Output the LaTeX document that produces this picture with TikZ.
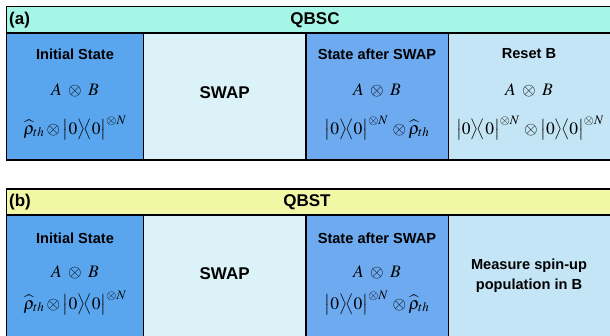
\documentclass[tikz,border=0pt]{standalone}
\usepackage{mathptmx}
\usepackage[no-math]{fontspec}
\setsansfont{Liberation Sans}
\definecolor{hdrA}{HTML}{A6F6E7}
\definecolor{hdrB}{HTML}{F2F7A6}
\definecolor{colA}{HTML}{5AA6EE}
\definecolor{colB}{HTML}{DCF2F9}
\definecolor{colC}{HTML}{6EAAF0}
\definecolor{colD}{HTML}{C3E5F5}
\newcommand{\kb}{\bigl|0\bigr\rangle\!\bigl\langle0\bigr|^{\otimes N}}
\newcommand{\rth}{\widehat{\rho}_{th}}
\begin{document}
\begin{tikzpicture}[x=1pt,y=-1pt,
  frame/.style={draw=black,line width=1.2pt},
  hdr/.style={font=\sffamily\bfseries\fontsize{17}{20}\selectfont,inner sep=0pt},
  ttl/.style={font=\sffamily\bfseries\fontsize{14.6}{17}\selectfont,inner sep=0pt,align=center},
  big/.style={font=\sffamily\bfseries\fontsize{17}{20}\selectfont,inner sep=0pt},
  mth/.style={font=\fontsize{17.5}{20}\selectfont,inner sep=0pt}]
\useasboundingbox (0,0) rectangle (610,335);
\begin{scope}
\clip (0,0) rectangle (610,335);
% panel a
\fill[hdrA] (6.5,6.5) rectangle (612,33);
\fill[colA] (6.5,33) rectangle (143.3,160);
\fill[colB] (143.3,33) rectangle (306,160);
\fill[colC] (306,33) rectangle (448.3,160);
\fill[colD] (448.3,33) rectangle (612,160);
\draw[frame] (6.5,6.5) rectangle (611,160);
\draw[frame] (6.5,33) -- (611,33);
\draw[frame] (143.3,33) -- (143.3,160);
\draw[frame] (306,33) -- (306,160);
\draw[frame] (448.3,33) -- (448.3,160);
% panel b
\fill[hdrB] (6.5,189) rectangle (612,215);
\fill[colA] (6.5,215) rectangle (143.3,337);
\fill[colB] (143.3,215) rectangle (306,337);
\fill[colC] (306,215) rectangle (448.3,337);
\fill[colD] (448.3,215) rectangle (612,337);
\draw[frame] (6.5,337) -- (6.5,189) -- (611,189) -- (611,337);
\draw[frame] (6.5,215) -- (611,215);
\draw[frame] (143.3,215) -- (143.3,337);
\draw[frame] (306,215) -- (306,337);
\draw[frame] (448.3,215) -- (448.3,337);
\end{scope}
% panel a texts
\node[hdr,anchor=west] (la) at (9,20.5) {(a)};
\node[hdr] (ha) at (315,20.5) {QBSC};
\node[ttl] (a1t) at (75,54) {Initial State};
\node[mth] (a1m) at (75,90) {$A\;\otimes\;B$};
\node[mth] (a1k) at (75,128) {$\rth\otimes\kb$};
\node[big] (a2) at (224.6,93) {SWAP};
\node[ttl] (a3t) at (377,54) {State after SWAP};
\node[mth] (a3m) at (377,90) {$A\;\otimes\;B$};
\node[mth] (a3k) at (377,128) {$\kb\,\otimes\rth$};
\node[ttl] (a4t) at (529,54) {Reset B};
\node[mth] (a4m) at (529,90) {$A\;\otimes\;B$};
\node[mth] (a4k) at (530,128) {$\kb\,\otimes\kb$};
% panel b texts
\node[hdr,anchor=west] (lb) at (9,202.5) {(b)};
\node[hdr] (hb) at (307,202.5) {QBST};
\node[ttl] (b1t) at (75,238) {Initial State};
\node[mth] (b1m) at (75,272) {$A\;\otimes\;B$};
\node[mth] (b1k) at (75,303) {$\rth\otimes\kb$};
\node[big] (b2) at (224.6,274) {SWAP};
\node[ttl] (b3t) at (377,238) {State after SWAP};
\node[mth] (b3m) at (377,272) {$A\;\otimes\;B$};
\node[mth] (b3k) at (377,303) {$\kb\,\otimes\rth$};
\node[ttl,font=\sffamily\bfseries\fontsize{14.6}{19.5}\selectfont] (b4) at (529,275.5) {Measure spin-up\\population in B};
\end{tikzpicture}
\end{document}
